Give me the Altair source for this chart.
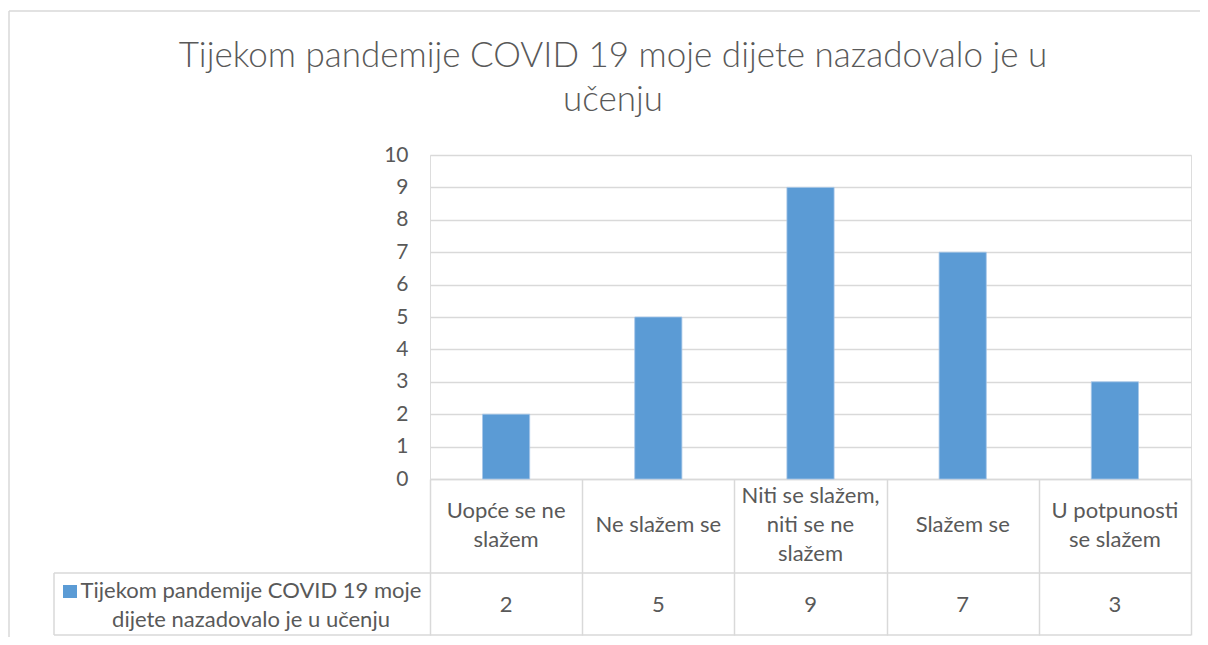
import altair as alt
import pandas as pd

categories = ["Uopće se ne slažem", "Ne slažem se", "Niti se slažem, niti se ne slažem",
              "Slažem se", "U potpunosti se slažem"]
label_lines = ["Uopće se ne\nslažem", "Ne slažem se", "Niti se slažem,\nniti se ne\nslažem",
               "Slažem se", "U potpunosti\nse slažem"]
values = [2, 5, 9, 7, 3]
series_name = "Tijekom pandemije COVID 19 moje dijete nazadovalo je u učenju"
title_lines = ["Tijekom pandemije COVID 19 moje dijete nazadovalo je u", "učenju"]
legend_text = "Tijekom pandemije COVID 19 moje\ndijete nazadovalo je u učenju"

FONT = "Lato"
TXT = "#595959"
GRID = "#d9d9d9"
BAR = "#5b9bd5"
LH = 29

df = pd.DataFrame({"cat": categories, "label": label_lines, "value": values})
one = alt.Data(values=[{"k": 1}])

W, H = 761, 324
TBOT = 480

xenc = alt.X("cat:N", sort=categories, title=None,
             scale=alt.Scale(paddingInner=0, paddingOuter=0),
             axis=alt.Axis(labels=False, domainColor=GRID, domainWidth=1.5,
                           tickBand="extent", tickSize=TBOT - H, tickColor=GRID,
                           tickWidth=1.5))

bars = alt.Chart(df).mark_bar(width=alt.RelativeBandSize(0.31), color=BAR,
                              stroke="#a7c7e8", strokeWidth=0.8).encode(
    x=xenc,
    y=alt.Y("value:Q", title=None,
            scale=alt.Scale(domain=[0, 10], nice=False),
            axis=alt.Axis(values=list(range(0, 11)), domain=False, ticks=False,
                          labelFontSize=21, labelFont=FONT, labelColor=TXT,
                          labelPadding=22, gridColor=GRID, gridWidth=1.5)),
)


def cat_layer(nlines):
    return alt.Chart(df).transform_calculate(
        n="length(split(datum.label, '\\n'))"
    ).transform_filter(alt.datum.n == nlines).mark_text(
        font=FONT, fontSize=22, color=TXT, lineBreak="\n", lineHeight=LH,
        baseline="middle", align="center").encode(
        x=alt.X("cat:N", sort=categories),
        y=alt.value(370 - (nlines - 1) * LH / 2),
        text="label:N",
    )


val_text = alt.Chart(df).mark_text(font=FONT, fontSize=22, color=TXT, baseline="middle",
                                   align="center").encode(
    x=alt.X("cat:N", sort=categories),
    y=alt.value(450),
    text="value:Q",
)

hline1 = alt.Chart(one).mark_rule(color=GRID, strokeWidth=1.5).encode(
    x=alt.value(-376), x2=alt.value(W), y=alt.value(418))
hline2 = alt.Chart(one).mark_rule(color=GRID, strokeWidth=1.5).encode(
    x=alt.value(-376), x2=alt.value(W), y=alt.value(TBOT))
vline = alt.Chart(one).mark_rule(color=GRID, strokeWidth=1.5).encode(
    x=alt.value(-376), y=alt.value(418), y2=alt.value(TBOT))

border_top = alt.Chart(one).mark_rule(color=GRID, strokeWidth=1.5).encode(
    x=alt.value(-421), x2=alt.value(820), y=alt.value(-144))
border_left = alt.Chart(one).mark_rule(color=GRID, strokeWidth=1.5).encode(
    x=alt.value(-421), y=alt.value(-144), y2=alt.value(560))

title1 = alt.Chart(one).mark_text(font=FONT, fontSize=35, fontWeight=300, color=TXT,
                                  align="center", baseline="alphabetic").encode(
    x=alt.value(183), y=alt.value(-88), text=alt.value(title_lines[0]))
title2 = alt.Chart(one).mark_text(font=FONT, fontSize=35, fontWeight=300, color=TXT,
                                  align="center", baseline="alphabetic").encode(
    x=alt.value(183), y=alt.value(-44), text=alt.value(title_lines[1]))

leg_sq = alt.Chart(one).mark_rect(color=BAR).encode(
    x=alt.value(-367), x2=alt.value(-353), y=alt.value(430), y2=alt.value(443))
leg_txt = alt.Chart(one).mark_text(font=FONT, fontSize=22, color=TXT, lineBreak="\n",
                                   lineHeight=LH, baseline="middle", align="center").encode(
    x=alt.value(-179), y=alt.value(450 - LH / 2), text=alt.value(legend_text))

chart = alt.layer(border_top, border_left, bars, cat_layer(1), cat_layer(2), cat_layer(3),
                  val_text, hline1, hline2, vline, title1, title2, leg_sq, leg_txt).properties(
    width=W, height=H,
    autosize=alt.AutoSizeParams(type="none"),
    padding={"left": 422, "top": 147, "right": 9, "bottom": 158},
).configure_view(stroke=None).configure(background="white")

chart.save("out.html", embed_options={"renderer": "svg", "actions": False})
